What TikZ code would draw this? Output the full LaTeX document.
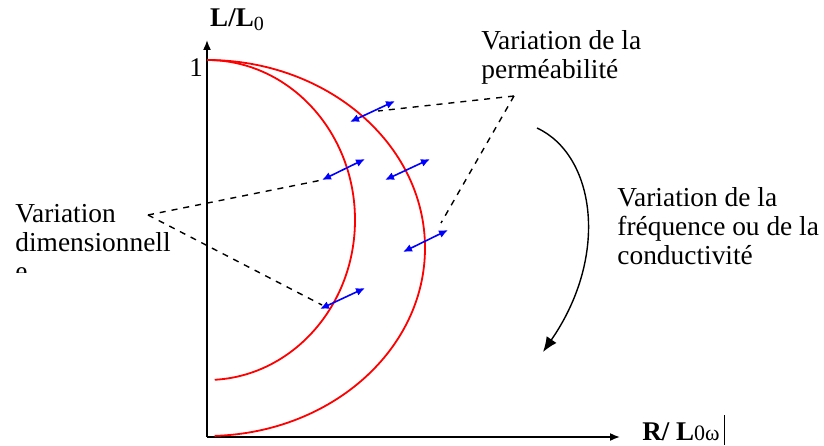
\documentclass[tikz,border=0pt]{standalone}
\usepackage{fontspec}
\setmainfont{Liberation Serif}
\usetikzlibrary{arrows,arrows.meta}

\begin{document}
\begin{tikzpicture} [x = 0.5pt, y = 0.5pt,
	courbe/.style = {red, line width = 0.9pt},
	variation/.style = {blue, line width = 0.8pt, {Latex[length = 4.5pt, width = 4pt]}-{Latex[length = 4.5pt, width = 4pt]}},
	axe/.style = {line width = 0.8pt, -{Latex[length = 5pt, width = 4pt]}},
	renvoi/.style = {dashed, line width = 0.7pt},
	texte/.style = {align = left, inner sep = 0pt, anchor = north west, font = \fontsize{13.7}{14.5}\selectfont}]
	\useasboundingbox (0,0) rectangle (824,445);

	% axes
	\coordinate (O) at (207,8);
	\coordinate (Ymax) at (207,405);
	\coordinate (Xmax) at (620,8);
	\draw [axe] (O) -- (Ymax);
	\draw [axe] (O) -- (Xmax);
	\node (Ylab) at (237,425) {\fontsize{13.5}{14.5}\selectfont\textbf{L/L}\raisebox{-0.3ex}{\fontsize{10}{10}\selectfont 0}};
	\node (un) at (196,377) {\fontsize{13.5}{14.5}\selectfont 1};
	\node (Xlab) at (681,13) {\fontsize{13.5}{14.5}\selectfont\textbf{R/ L}{\fontsize{11}{11}\selectfont 0ω}};
	\coordinate (curseur) at (724,30);
	\draw [line width = 0.5pt] (curseur) -- (724,0);

	% courbes
	\draw [courbe] (207,385) arc (90:-88:218 and 188);
	\draw [courbe] (207,385) arc (90:-87:148 and 160);

	% fleches bleues
	\coordinate (a1) at (350,323); \coordinate (b1) at (395,344);
	\coordinate (a2) at (322,265); \coordinate (b2) at (365,286);
	\coordinate (a3) at (385,265); \coordinate (b3) at (430,286);
	\coordinate (a4) at (403,193); \coordinate (b4) at (448,215);
	\coordinate (a5) at (320,136); \coordinate (b5) at (365,157);
	\foreach \i in {1,...,5}
		\draw [variation] (a\i) -- (b\i);

	% textes
	\node [texte] (perm) at (481,415) {Variation de la\\perméabilité};
	\node [texte] (freq) at (617,258) {Variation de la\\fréquence ou de la\\conductivité};
	\begin{scope}
		\clip (0,173) rectangle (200,260);
		\node [texte] (dim) at (15,241) {Variation\\dimensionnell\\e};
	\end{scope}

	% renvois
	\coordinate (P) at (514,349);
	\coordinate (D) at (148,230);
	\draw [renvoi] (P) -- (378,334);
	\draw [renvoi] (P) -- (441,222);
	\draw [renvoi] (D) -- (a2);
	\draw [renvoi] (D) -- (322,140);

	% sens de variation
	\coordinate (debut) at (537,317);
	\coordinate (fin) at (543,93);
	\draw [line width = 0.7pt, -{Latex[length = 7.5pt, width = 6pt]}] (debut) .. controls (595,290) and (610,190) .. (fin);
\end{tikzpicture}
\end{document}
